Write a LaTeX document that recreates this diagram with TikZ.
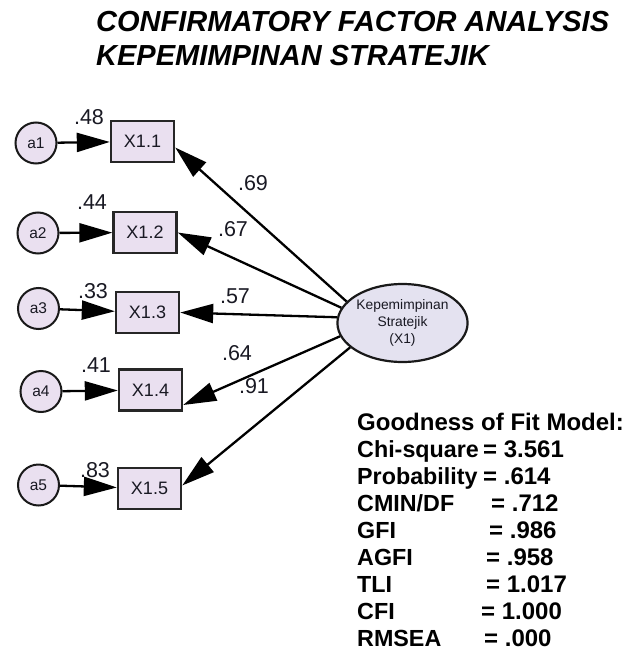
\documentclass[tikz,border=0pt]{standalone}
\usepackage{fontspec}
\setmainfont{Liberation Sans}
\usetikzlibrary{arrows.meta,shapes.geometric}
\definecolor{boxfill}{RGB}{234,224,240}
\definecolor{latfill}{RGB}{228,226,240}
\definecolor{inkc}{RGB}{25,25,35}
\tikzset{
  obs/.style={draw=black!85, line width=2.4pt, fill=boxfill, minimum width=63pt, minimum height=41pt, inner sep=0pt, text=inkc, font=\fontsize{18}{20}\selectfont},
  err/.style={circle, draw=black!90, line width=2pt, fill=boxfill, minimum size=41pt, inner sep=0pt, text=inkc, font=\fontsize{15.5}{16}\selectfont},
  lat/.style={ellipse, draw=black!90, line width=2.2pt, fill=latfill, minimum width=122pt, minimum height=78pt, inner sep=0pt, align=center, text=inkc, font=\fontsize{13.8}{17}\selectfont},
  pth/.style={line width=2.3pt, -{Triangle[length=33pt,width=19pt]}},
  coef/.style={inner sep=0pt, text=inkc, font=\fontsize{21.5}{22}\selectfont},
  gof/.style={inner sep=0pt, anchor=base west, font=\fontsize{24}{26}\selectfont\bfseries},
  gofl/.style={inner sep=0pt, anchor=base west, font=\fontsize{23.3}{26}\selectfont\bfseries},
  ttl/.style={inner sep=0pt, anchor=base west, font=\fontsize{29}{30}\selectfont\bfseries\itshape}
}
\begin{document}
\begin{tikzpicture}[x=1pt,y=-1pt]
\useasboundingbox (0,0) rectangle (626,658);
% title
\node[ttl] (t1) at (96,32) {CONFIRMATORY FACTOR ANALYSIS};
\node[ttl] (t2) at (96,66) {KEPEMIMPINAN STRATEJIK};
% latent
\node[lat] (lat) at (402.5,323) {Kepemimpinan\\Stratejik\\(X1)};
% observed
\node[obs] (b1) at (142.5,141.5) {X1.1};
\node[obs] (b2) at (145,232.5) {X1.2};
\node[obs] (b3) at (147.5,312.5) {X1.3};
\node[obs] (b4) at (150.5,390) {X1.4};
\node[obs] (b5) at (149.5,488.5) {X1.5};
% errors
\node[err] (a1) at (36,143) {a1};
\node[err] (a2) at (38,233) {a2};
\node[err] (a3) at (38.5,308.5) {a3};
\node[err] (a4) at (41,391.5) {a4};
\node[err] (a5) at (38.5,485) {a5};
% error paths
\draw[pth] (a1) -- (b1);
\draw[pth] (a2) -- (b2);
\draw[pth] (a3) -- (b3);
\draw[pth] (a4) -- (b4);
\draw[pth] (a5) -- (b5);
% loadings
\draw[pth] (lat.159) -- ([yshift=-6pt]b1.east);
\draw[pth] (lat.166) -- (b2.east);
\draw[pth] (lat.175) -- (b3.east);
\draw[pth] (lat.192) -- ([yshift=-15pt]b4.east);
\draw[pth] (lat.205) -- ([yshift=3pt]b5.east);
% coefficient labels
\node[coef] (c1) at (89,117) {.48};
\node[coef] (c2) at (92,202) {.44};
\node[coef] (c3) at (93,291) {.33};
\node[coef] (c4) at (96,365) {.41};
\node[coef] (c5) at (95,470) {.83};
\node[coef] (l1) at (253,183) {.69};
\node[coef] (l2) at (233,229) {.67};
\node[coef] (l3) at (235,296) {.57};
\node[coef] (l4) at (237,353) {.64};
\node[coef] (l5) at (254,386) {.91};
% goodness of fit
\node[gof] (g0) at (357,430) {Goodness of Fit Model:};
\node[gofl] (g1) at (357,457) {Chi-square};
\node[gof] (v1) at (483,457) {= 3.561};
\node[gofl] (g2) at (357,484) {Probability};
\node[gof] (v2) at (483,484) {= .614};
\node[gofl] (g3) at (357,511) {CMIN/DF};
\node[gof] (v3) at (491,511) {= .712};
\node[gofl] (g4) at (357,538) {GFI};
\node[gof] (v4) at (489,538) {= .986};
\node[gofl] (g5) at (357,565) {AGFI};
\node[gof] (v5) at (486,565) {= .958};
\node[gofl] (g6) at (357,592) {TLI};
\node[gof] (v6) at (486,592) {= 1.017};
\node[gofl] (g7) at (357,619) {CFI};
\node[gof] (v7) at (481,619) {= 1.000};
\node[gofl] (g8) at (357,646) {RMSEA};
\node[gof] (v8) at (484,646) {= .000};
\end{tikzpicture}
\end{document}
